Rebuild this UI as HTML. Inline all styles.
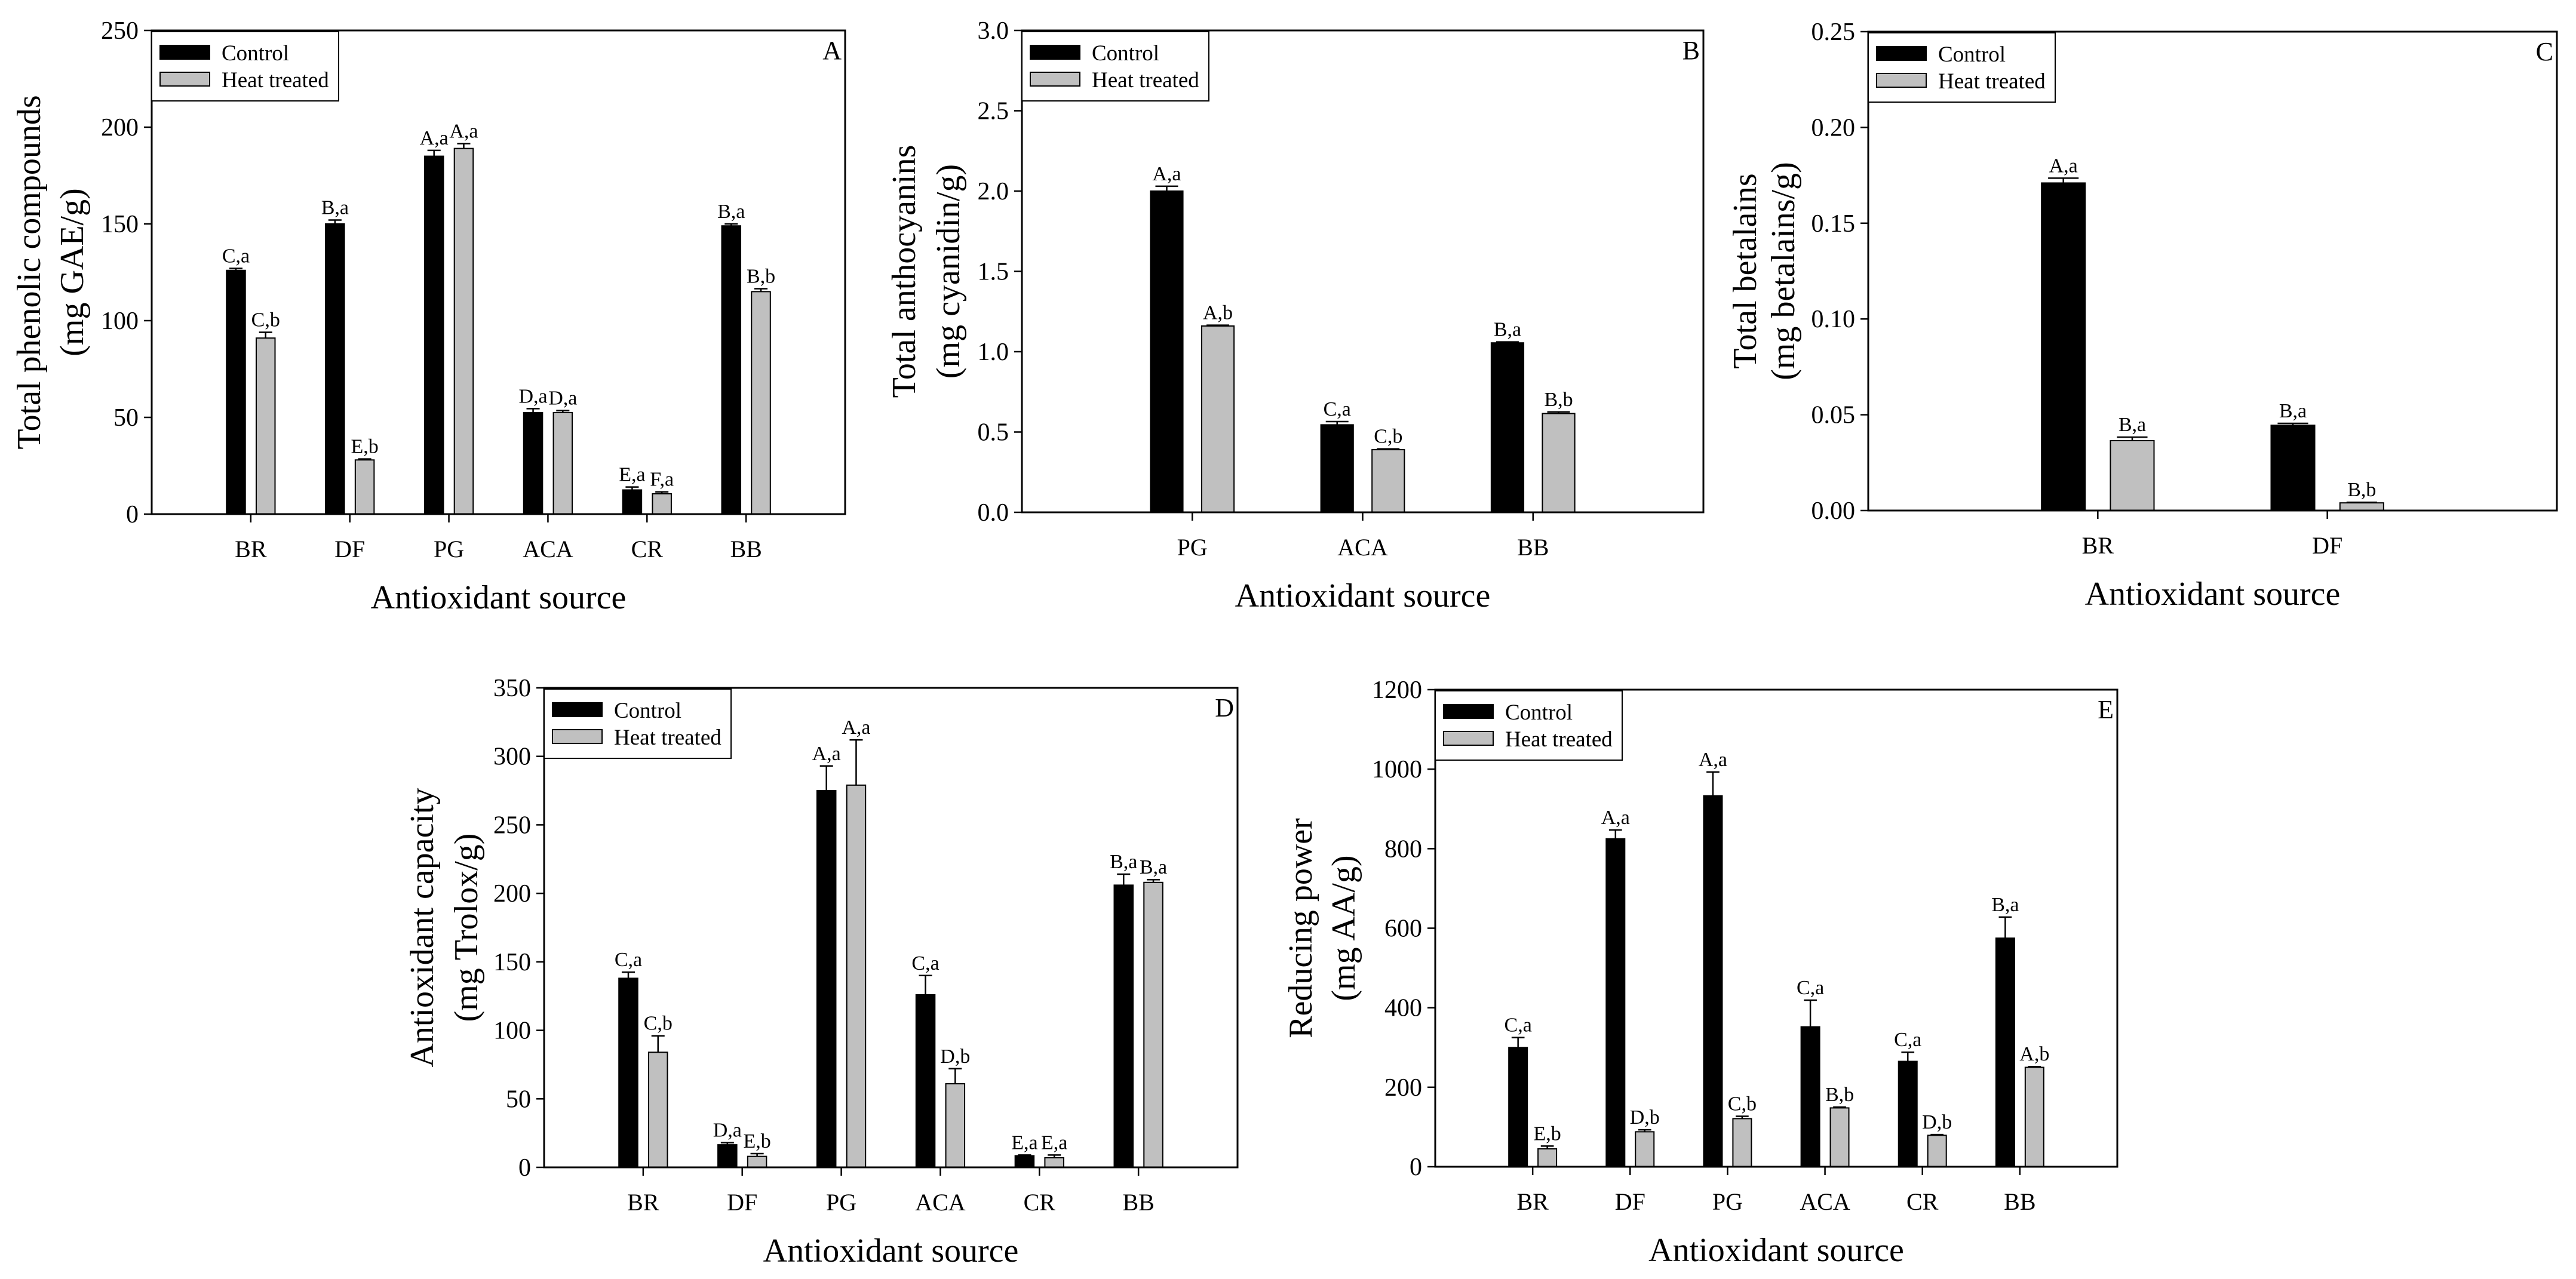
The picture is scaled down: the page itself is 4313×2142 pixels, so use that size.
<!DOCTYPE html>
<html><head><meta charset="utf-8"><style>
html,body{margin:0;padding:0;background:#fff;}
svg{display:block;font-family:"Liberation Serif","Times New Roman",serif;}
</style></head><body>
<svg id="fig" width="4313" height="2142" viewBox="0 0 4313 2142" xmlns="http://www.w3.org/2000/svg"></svg>
<script>
// Panel A – total phenolic compounds
const catsA = ["BR","DF","PG","ACA","CR","BB"];
const ctrlA = [126,150,185,52.5,12.5,149];
const ctrlErrA = [1,2,3,2,1.5,1];
const heatA = [91,28,189,52.5,10.5,115];
const heatErrA = [3,0.5,2.5,1,1,1.5];
const ctrlLblA = ["C,a","B,a","A,a","D,a","E,a","B,a"];
const heatLblA = ["C,b","E,b","A,a","D,a","F,a","B,b"];
const ticksA = ["0","50","100","150","200","250"];
// Panel B – anthocyanins
const catsB = ["PG","ACA","BB"];
const ctrlB = [2.0,0.545,1.055];
const ctrlErrB = [0.03,0.02,0.006];
const heatB = [1.16,0.39,0.615];
const heatErrB = [0.005,0.005,0.01];
const ctrlLblB = ["A,a","C,a","B,a"];
const heatLblB = ["A,b","C,b","B,b"];
const ticksB = ["0.0","0.5","1.0","1.5","2.0","2.5","3.0"];
// Panel C – betalains
const catsC = ["BR","DF"];
const ctrlC = [0.171,0.0445];
const ctrlErrC = [0.0025,0.001];
const heatC = [0.0365,0.004];
const heatErrC = [0.0018,0.0003];
const ctrlLblC = ["A,a","B,a"];
const heatLblC = ["B,a","B,b"];
const ticksC = ["0.00","0.05","0.10","0.15","0.20","0.25"];
// Panel D – antioxidant capacity
const catsD = ["BR","DF","PG","ACA","CR","BB"];
const ctrlD = [138,16.5,275,126,8.5,206];
const ctrlErrD = [4.5,1.5,18,14,0.5,8];
const heatD = [84,8,279,61,7,208];
const heatErrD = [12,2,33,11,2,2];
const ctrlLblD = ["C,a","D,a","A,a","C,a","E,a","B,a"];
const heatLblD = ["C,b","E,b","A,a","D,b","E,a","B,a"];
const ticksD = ["0","50","100","150","200","250","300","350"];
// Panel E – reducing power
const catsE = ["BR","DF","PG","ACA","CR","BB"];
const ctrlE = [300,825,933,352,265,575];
const ctrlErrE = [25,22,60,67,23,53];
const heatE = [45,88,121,148,79,250];
const heatErrE = [7,5,6,2,2,2];
const ctrlLblE = ["C,a","A,a","A,a","C,a","C,a","B,a"];
const heatLblE = ["E,b","D,b","C,b","B,b","D,b","A,b"];
const ticksE = ["0","200","400","600","800","1000","1200"];

const NS = "http://www.w3.org/2000/svg";
const svg = document.getElementById("fig");
function mk(tag, attrs, parent, text){
  const e = document.createElementNS(NS, tag);
  for (const k in attrs) e.setAttribute(k, attrs[k]);
  if (text !== undefined) e.textContent = text;
  (parent||svg).appendChild(e);
  return e;
}

function panel(p){
  const g = mk("g", {});
  
  
  const nSlots = p.cats.length + 1;
  const slot = (p.R - p.L) / nSlots;
  const x = i => p.L + slot * (i + 1);
  const y = v => p.B - (v / p.ymax) * (p.B - p.T);
  const bw = slot * 0.19, off = slot * 0.15;

  // bars
  p.cats.forEach((c, i) => {
    [[p.ctrl, p.ctrlErr, p.ctrlLbl, "#000", -off, "control"], [p.heat, p.heatErr, p.heatLbl, "#c0c0c0", off, "heat"]].forEach(s => {
      const v = s[0][i], e = s[1][i];
      const cx = x(i) + s[4];
      const r = mk("rect", {x: cx - bw/2, y: y(v), width: bw, height: p.B - y(v), fill: s[3], stroke: "#000", "stroke-width": 2}, g);
      
      
      const et = y(v + e);
      const el = mk("path", {d: `M${cx} ${y(v)}V${et}M${cx - bw*0.35} ${et}H${cx + bw*0.35}`, stroke: "#000", "stroke-width": 2.5, fill: "none"}, g);
      
      
      const t = mk("text", {x: cx, y: et - 10, "font-size": 34, "text-anchor": "middle"}, g, s[2][i]);
      
      
    });
    const tk = mk("line", {x1: x(i), x2: x(i), y1: p.B, y2: p.B + 14, stroke: "#000", "stroke-width": 2.5}, g);
    
    
    const tl = mk("text", {x: x(i), y: p.B + 72, "font-size": 40, "text-anchor": "middle"}, g, c);
    
    
  });

  // y ticks
  p.ticks.forEach(t => {
    const yy = y(parseFloat(t));
    const l = mk("line", {x1: p.L - 13, x2: p.L, y1: yy, y2: yy, stroke: "#000", "stroke-width": 2.5}, g);
    
    
    const tx = mk("text", {x: p.L - 22, y: yy + 14, "font-size": 42, "text-anchor": "end"}, g, t);
    
    
  });

  // frame
  const fr = mk("rect", {x: p.L, y: p.T, width: p.R - p.L, height: p.B - p.T, fill: "none", stroke: "#000", "stroke-width": 3}, g);
  
  

  // legend
  const lg = mk("g", {}, g);
  
  
  mk("rect", {x: p.L, y: p.T + 2, width: 313, height: 116, fill: "#fff", stroke: "#000", "stroke-width": 2}, lg);
  const e1 = mk("g", {}, lg);
  
  
  mk("rect", {x: p.L + 14, y: p.T + 25, width: 83, height: 23, fill: "#000", stroke: "#000", "stroke-width": 2}, e1);
  mk("text", {x: p.L + 117, y: p.T + 50, "font-size": 37}, e1, "Control");
  const e2 = mk("g", {}, lg);
  
  
  mk("rect", {x: p.L + 14, y: p.T + 70, width: 83, height: 23, fill: "#c0c0c0", stroke: "#000", "stroke-width": 2}, e2);
  mk("text", {x: p.L + 117, y: p.T + 95, "font-size": 37}, e2, "Heat treated");

  // panel letter
  const pl = mk("text", {x: p.R - 6, y: p.T + 48, "font-size": 44, "text-anchor": "end"}, g, p.id);
  
  

  // axis titles
  const xt = mk("text", {x: (p.L + p.R)/2, y: p.B + 158, "font-size": 56, "text-anchor": "middle"}, g, "Antioxidant source");
  
  
  const cy = (p.T + p.B)/2;
  const yt = mk("g", {}, g);
  
  
  mk("text", {x: 0, y: 0, "font-size": 56, "text-anchor": "middle", transform: `translate(${p.tx[0] + 19},${cy}) rotate(-90)`}, yt, p.title[0]);
  mk("text", {x: 0, y: 0, "font-size": 56, "text-anchor": "middle", transform: `translate(${p.tx[1] + 19},${cy}) rotate(-90)`}, yt, p.title[1]);
}

panel({id:"A", L:254, R:1415, T:51, B:861, ymax:250, cats:catsA, ctrl:ctrlA, ctrlErr:ctrlErrA, heat:heatA, heatErr:heatErrA, ctrlLbl:ctrlLblA, heatLbl:heatLblA, ticks:ticksA, tx:[48,120], title:["Total phenolic compounds","(mg GAE/g)"]});
panel({id:"B", L:1711, R:2852, T:51, B:858, ymax:3, cats:catsB, ctrl:ctrlB, ctrlErr:ctrlErrB, heat:heatB, heatErr:heatErrB, ctrlLbl:ctrlLblB, heatLbl:heatLblB, ticks:ticksB, tx:[1513,1587], title:["Total anthocyanins","(mg cyanidin/g)"]});
panel({id:"C", L:3128, R:4281, T:53, B:855, ymax:0.25, cats:catsC, ctrl:ctrlC, ctrlErr:ctrlErrC, heat:heatC, heatErr:heatErrC, ctrlLbl:ctrlLblC, heatLbl:heatLblC, ticks:ticksC, tx:[2921,2985], title:["Total betalains","(mg betalains/g)"]});
panel({id:"D", L:911, R:2072, T:1152, B:1955, ymax:350, cats:catsD, ctrl:ctrlD, ctrlErr:ctrlErrD, heat:heatD, heatErr:heatErrD, ctrlLbl:ctrlLblD, heatLbl:heatLblD, ticks:ticksD, tx:[706,780], title:["Antioxidant capacity","(mg Trolox/g)"]});
panel({id:"E", L:2403, R:3545, T:1155, B:1954, ymax:1200, cats:catsE, ctrl:ctrlE, ctrlErr:ctrlErrE, heat:heatE, heatErr:heatErrE, ctrlLbl:ctrlLblE, heatLbl:heatLblE, ticks:ticksE, tx:[2177,2249], title:["Reducing power","(mg AA/g)"]});
</script>
</body></html>
